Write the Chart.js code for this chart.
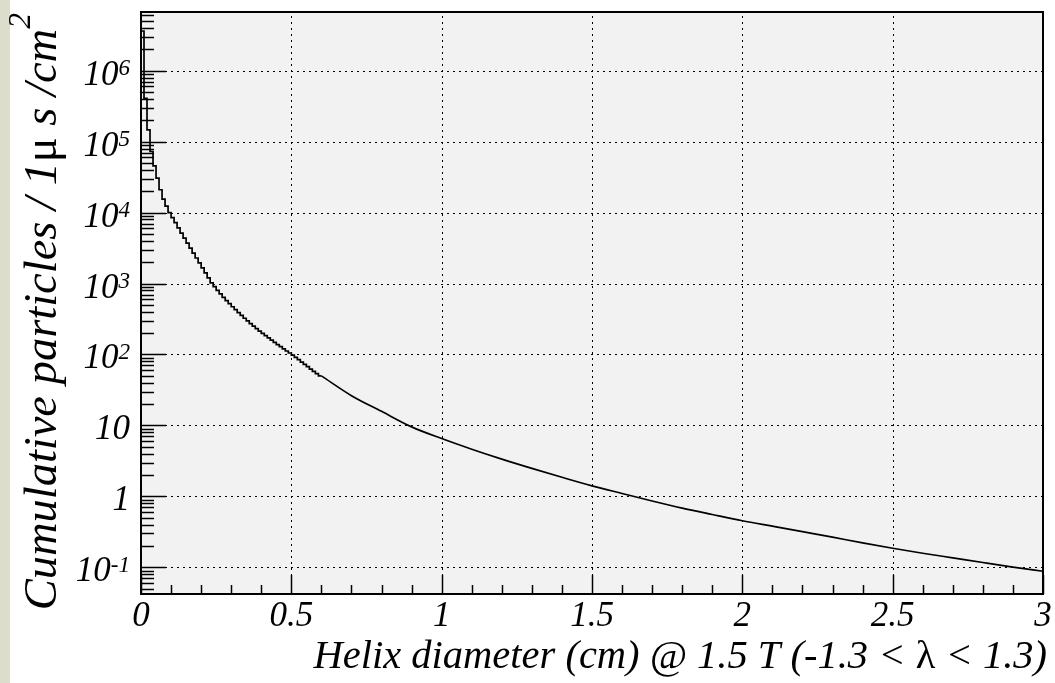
<!DOCTYPE html>
<html><head><meta charset="utf-8">
<script src="https://cdn.jsdelivr.net/npm/chart.js@4/dist/chart.umd.min.js"></script>
<style>
html,body{margin:0;padding:0;background:#fff;overflow:hidden}
canvas{display:block}
</style>
</head><body>
<canvas id="c" width="1055" height="683" style="width:1055px;height:683px"></canvas>
<script>
// ---- data ----
const binWidth = 0.01;            // histogram bin width (cm) for the first part
const stepBins = [
  3630000, 407000, 146600, 72600, 45700, 30700, 21000, 15500, 12300, 10000,
  8510, 7240, 6100, 5130, 4370, 3720, 3160, 2690, 2290, 1950,
  1660, 1410, 1200, 1020, 904, 802, 714, 640, 575, 520,
  471, 428, 389, 355, 324, 297, 273, 251, 232, 214,
  199, 184, 171, 159, 148, 138, 129, 120, 112, 105,
  98, 91, 84.5, 78.3, 72.6, 67.3, 62.4, 57.9, 53.8, 50.0
];
const tailX = [0.6, 0.7, 0.8, 0.9, 1.0, 1.1, 1.2, 1.3, 1.4, 1.5, 1.6, 1.7, 1.8, 1.9, 2.0,
               2.1, 2.2, 2.3, 2.4, 2.5, 2.6, 2.7, 2.8, 2.9, 3.0];
const tailY = [50.0, 26.3, 15.8, 9.55, 6.53, 4.62, 3.35, 2.48, 1.86, 1.41, 1.10, 0.861, 0.684, 0.556, 0.454,
               0.380, 0.318, 0.266, 0.221, 0.186, 0.158, 0.136, 0.117, 0.101, 0.088];
const xTicks = [0, 0.5, 1, 1.5, 2, 2.5, 3];
const xTickLabels = ['0', '0.5', '1', '1.5', '2', '2.5', '3'];
const yTicks = [1e-1, 1, 10, 1e2, 1e3, 1e4, 1e5, 1e6];
const yTickBase = ['10', '1', '10', '10', '10', '10', '10', '10'];
const yTickExp  = ['-1', '', '', '2', '3', '4', '5', '6'];
const xRange = [0, 3];
const yRange = [0.0421, 6.72e6];

// ---- build datasets ----
const stepPts = stepBins.map((v, i) => ({x: i * binWidth, y: v}));
stepPts.push({x: stepBins.length * binWidth, y: stepBins[stepBins.length - 1]});
const tailPts = tailX.map((x, i) => ({x: x, y: tailY[i]}));

const SERIF = '"Liberation Serif", "Times New Roman", serif';

function drawRich(ctx, segs, x, y, align, size) {
  const fonts = segs.map(s => s.sup ? `italic ${size * s.sup}px ${SERIF}` :
                              (s.up ? `${size}px ${SERIF}` : `italic ${size}px ${SERIF}`));
  let total = 0;
  const w = segs.map((s, i) => { ctx.font = fonts[i]; const m = ctx.measureText(s.t).width; total += m; return m; });
  let cx = align === 'right' ? x - total : (align === 'center' ? x - total / 2 : x);
  ctx.textAlign = 'left';
  ctx.textBaseline = 'alphabetic';
  segs.forEach((s, i) => {
    ctx.font = fonts[i];
    ctx.fillText(s.t, cx, y - (s.raise ? size * s.raise : 0));
    cx += w[i];
  });
  return total;
}

const rootStyle = {
  id: 'rootStyle',
  beforeDraw(chart) {
    const {ctx, chartArea: a, width, height} = chart;
    ctx.save();
    ctx.fillStyle = '#ffffff';
    ctx.fillRect(0, 0, width, height);
    ctx.fillStyle = '#dcdecb';
    ctx.fillRect(0, 0, 10, height);
    ctx.fillStyle = '#f2f2f2';
    ctx.fillRect(a.left, a.top, a.right - a.left, a.bottom - a.top);
    ctx.restore();
  },
  beforeDatasetsDraw(chart) {
    const {ctx, chartArea: a, scales: {x, y}} = chart;
    ctx.save();
    ctx.strokeStyle = '#000';
    ctx.lineWidth = 1;
    ctx.setLineDash([2, 4]);
    yTicks.forEach(v => {
      const py = Math.round(y.getPixelForValue(v)) + 0.5;
      ctx.beginPath(); ctx.moveTo(a.left, py); ctx.lineTo(a.right, py); ctx.stroke();
    });
    xTicks.forEach(v => {
      const px = Math.round(x.getPixelForValue(v)) + 0.5;
      ctx.beginPath(); ctx.moveTo(px, a.bottom); ctx.lineTo(px, a.top); ctx.stroke();
    });
    ctx.restore();
  },
  afterDatasetsDraw(chart) {
    const {ctx, chartArea: a, scales: {x, y}} = chart;
    ctx.save();
    ctx.strokeStyle = '#000';
    ctx.lineWidth = 1.5;
    ctx.setLineDash([]);
    // y ticks
    yTicks.forEach(v => {
      const py = Math.round(y.getPixelForValue(v)) + 0.5;
      ctx.beginPath(); ctx.moveTo(a.left, py); ctx.lineTo(a.left + 25, py); ctx.stroke();
    });
    for (let e = -2; e <= 6; e++) {
      for (let m = 2; m <= 9; m++) {
        const v = m * Math.pow(10, e);
        if (v < yRange[0] || v > yRange[1]) continue;
        const py = Math.round(y.getPixelForValue(v)) + 0.5;
        ctx.beginPath(); ctx.moveTo(a.left, py); ctx.lineTo(a.left + 13, py); ctx.stroke();
      }
    }
    // x ticks
    for (let i = 0; i <= 30; i++) {
      const v = i / 10;
      const px = Math.round(x.getPixelForValue(v)) + 0.5;
      const len = (i % 5 === 0) ? 19 : 9;
      ctx.beginPath(); ctx.moveTo(px, a.bottom); ctx.lineTo(px, a.bottom - len); ctx.stroke();
    }
    // frame
    ctx.lineWidth = 2;
    ctx.strokeRect(a.left, a.top, a.right - a.left, a.bottom - a.top);

    // tick labels
    ctx.fillStyle = '#000';
    yTicks.forEach((v, i) => {
      const py = y.getPixelForValue(v);
      const segs = [{t: yTickBase[i]}];
      if (yTickExp[i]) segs.push({t: yTickExp[i], sup: 0.66, raise: 0.27});
      drawRich(ctx, segs, 130, py + 14, 'right', 35);
    });
    xTicks.forEach((v, i) => {
      const px = x.getPixelForValue(v);
      drawRich(ctx, [{t: xTickLabels[i]}], px, 626, 'center', 35);
    });

    // axis titles
    drawRich(ctx, [{t: 'Helix diameter (cm) @ 1.5 T (-1.3 < '}, {t: '\u03bb', up: true}, {t: ' < 1.3)'}],
             1047, 668, 'right', 40.5);
    ctx.save();
    ctx.translate(56, 13);
    ctx.rotate(-Math.PI / 2);
    drawRich(ctx, [{t: 'Cumulative particles / 1'}, {t: '\u03bc', up: true}, {t: ' s /cm'}, {t: '2', sup: 0.68, raise: 0.55}],
             0, 0, 'right', 46.5);
    ctx.restore();
    ctx.restore();
  }
};

new Chart(document.getElementById('c').getContext('2d'), {
  type: 'line',
  data: {
    datasets: [
      {data: stepPts, stepped: true, borderColor: '#000', borderWidth: 1.7, pointRadius: 0, fill: false},
      {data: tailPts, borderColor: '#000', borderWidth: 1.7, pointRadius: 0, fill: false, cubicInterpolationMode: 'monotone'}
    ]
  },
  options: {
    responsive: false,
    animation: false,
    devicePixelRatio: 1,
    events: [],
    layout: {padding: {top: 12, right: 12, left: 0, bottom: 0}},
    plugins: {legend: {display: false}, tooltip: {enabled: false}},
    scales: {
      x: {
        type: 'linear', min: xRange[0], max: xRange[1], bounds: 'data',
        grid: {display: false}, border: {display: false}, ticks: {display: false},
        afterBuildTicks(s) { s.ticks = xTicks.map(v => ({value: v})); },
        afterFit(s) { s.height = 89; }
      },
      y: {
        type: 'logarithmic', min: yRange[0], max: yRange[1], bounds: 'data',
        grid: {display: false}, border: {display: false}, ticks: {display: false},
        afterBuildTicks(s) { s.ticks = yTicks.map(v => ({value: v})); },
        afterFit(s) { s.width = 141; }
      }
    }
  },
  plugins: [rootStyle]
});
</script>
</body></html>
